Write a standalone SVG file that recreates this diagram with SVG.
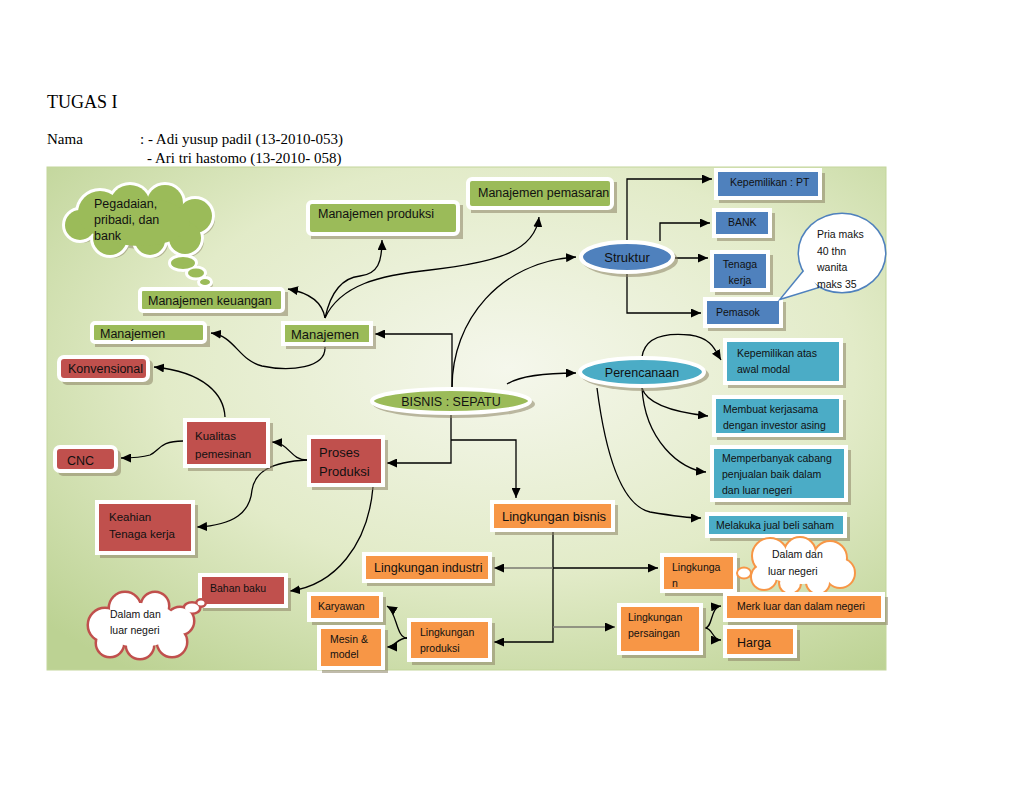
<svg xmlns="http://www.w3.org/2000/svg" width="1023" height="791" viewBox="0 0 1023 791">
<defs>
<radialGradient id="bg" cx="0.55" cy="0.4" r="0.75">
<stop offset="0" stop-color="#f5f7ec"/>
<stop offset="0.55" stop-color="#e2ebc8"/>
<stop offset="1" stop-color="#bcd293"/>
</radialGradient>
<marker id="a" markerUnits="userSpaceOnUse" markerWidth="10" markerHeight="9" refX="10" refY="4.5" orient="auto">
<path d="M0,0 L10,4.5 L0,9 z" fill="#000"/>
</marker>
<style>
.box{stroke:#fff;stroke-width:4}
.g{fill:#9bbb59}.r{fill:#c0504d}.o{fill:#f79646}.b{fill:#4f81bd}.c{fill:#4bacc6}
.sh{fill:#8c8466;opacity:.55}
.t{font-family:"Liberation Sans",Arial,sans-serif;font-size:12.5px;fill:#111}
.s{font-size:10.5px}
.m{font-size:11.5px}
.l{font-size:13px}
.hd{font-family:"Liberation Serif","Times New Roman",serif;fill:#000}
.ln{fill:none;stroke:#000;stroke-width:1.3;marker-end:url(#a)}
.gy{stroke:#7a7a70;stroke-width:1.6}
</style>
</defs>
<rect width="1023" height="791" fill="#fff"/>
<g id="header">
<text class="hd" x="47" y="108" font-size="18">TUGAS I</text>
<text class="hd" x="47" y="144" font-size="15">Nama</text>
<text class="hd" x="140" y="144" font-size="15">: - Adi yusup padil (13-2010-053)</text>
<text class="hd" x="147" y="163" font-size="15">- Ari tri hastomo (13-2010- 058)</text>
</g>
<rect id="panel" x="47" y="167" width="839" height="503" fill="url(#bg)" stroke="#c3d69b" stroke-width="1"/>

<g id="connectors">
<path class="ln" d="M627,240 V179 H712"/>
<path class="ln" d="M660,241 V223 H710"/>
<path class="ln" d="M675,258 H708"/>
<path class="ln" d="M627,274 V313 H701"/>
<path class="ln" d="M452,388 C452,320 500,262 576,257"/>
<path class="ln" d="M452,388 V334 H375"/>
<path class="ln" d="M507,384 C520,376 545,373 576,373"/>
<path class="ln" d="M451,415 V463 H387"/>
<path class="ln" d="M451,440 H516 V498"/>
<path class="ln" d="M553,532 V642 H494"/>
<path class="ln gy" d="M553,568 H494"/>
<path class="ln" d="M553,568 H658"/>
<path class="ln gy" d="M553,627 H615"/>
<path class="ln" d="M705,628 C713,628 710,607 721,606"/>
<path class="ln" d="M705,628 C713,628 712,640 721,640"/>
<path class="ln" d="M407,638 C396,638 397,612 387,606"/>
<path class="ln" d="M407,638 C397,638 395,647 387,647"/>
<path class="ln" d="M373,487 C368,545 335,585 290,591"/>
<path class="ln" d="M307,460 C290,460 290,443 272,442"/>
<path class="ln" d="M307,460 C270,462 255,472 252,490 C250,512 235,525 197,527"/>
<path class="ln" d="M183,441 C160,441 160,450 150,455 C140,458 130,458 121,458"/>
<path class="ln" d="M225,417 C224,395 205,372 154,367"/>
<path class="ln" d="M325,347 C326,368 290,372 262,366 C238,360 235,336 211,333"/>
<path class="ln" d="M325,318 C322,300 305,292 288,289"/>
<path class="ln" d="M325,318 C330,295 340,278 360,276 C378,274 382,262 382,240"/>
<path class="ln" d="M325,318 C340,285 380,275 430,270 C500,262 535,250 539,217"/>
<path class="ln" d="M642,357 C645,335 670,333 690,335 C712,338 715,350 721,360"/>
<path class="ln" d="M642,388 C648,408 690,414 708,416"/>
<path class="ln" d="M642,388 C645,440 680,470 706,472"/>
<path class="ln" d="M597,388 C605,450 620,505 650,512 C680,517 690,518 701,518"/>
</g>

<g id="cloud-green">
<g fill="#8c8466" opacity=".5" transform="translate(3,3)">
<circle cx="80" cy="225" r="15"/><circle cx="100" cy="213" r="22"/><circle cx="130" cy="205" r="20"/><circle cx="165" cy="203" r="18"/><circle cx="195" cy="216" r="17"/><circle cx="185" cy="238" r="16"/><circle cx="150" cy="240" r="15"/><circle cx="110" cy="238" r="17"/><ellipse cx="140" cy="222" rx="50" ry="24"/>
<ellipse cx="183" cy="263" rx="12" ry="6"/><ellipse cx="196" cy="273" rx="8" ry="4.5"/><ellipse cx="205" cy="282" rx="5" ry="3"/>
</g>
<g fill="none" stroke="#fff" stroke-width="6">
<circle cx="80" cy="225" r="15"/><circle cx="100" cy="213" r="22"/><circle cx="130" cy="205" r="20"/><circle cx="165" cy="203" r="18"/><circle cx="195" cy="216" r="17"/><circle cx="185" cy="238" r="16"/><circle cx="150" cy="240" r="15"/><circle cx="110" cy="238" r="17"/>
<ellipse cx="183" cy="263" rx="12" ry="6"/><ellipse cx="196" cy="273" rx="8" ry="4.5"/><ellipse cx="205" cy="282" rx="5" ry="3"/>
</g>
<g fill="#9bbb59">
<circle cx="80" cy="225" r="15"/><circle cx="100" cy="213" r="22"/><circle cx="130" cy="205" r="20"/><circle cx="165" cy="203" r="18"/><circle cx="195" cy="216" r="17"/><circle cx="185" cy="238" r="16"/><circle cx="150" cy="240" r="15"/><circle cx="110" cy="238" r="17"/><ellipse cx="140" cy="222" rx="50" ry="24"/>
<ellipse cx="183" cy="263" rx="12" ry="6"/><ellipse cx="196" cy="273" rx="8" ry="4.5"/><ellipse cx="205" cy="282" rx="5" ry="3"/>
</g>
<text class="t" x="94" y="208">Pegadaian,</text>
<text class="t" x="94" y="224">pribadi, dan</text>
<text class="t" x="94" y="240">bank</text>
</g>

<g id="mpem"><rect class="sh" x="471" y="182" width="146" height="31"/><rect class="box g" x="468" y="179" width="144" height="29" rx="4"/><text class="t" x="478" y="197">Manajemen pemasaran</text></g>
<g id="mprod"><rect class="sh" x="311" y="205" width="152" height="34"/><rect class="box g" x="308" y="202" width="150" height="32" rx="4"/><text class="t" x="318" y="218">Manajemen produksi</text></g>
<g id="mkeu"><rect class="sh" x="143" y="292" width="145" height="24"/><rect class="box g" x="140" y="289" width="143" height="22" rx="3"/><text class="t" x="148" y="305">Manajemen keuangan</text></g>
<g id="mleft"><rect class="sh" x="95" y="326" width="115" height="21"/><rect class="box g" x="92" y="323" width="113" height="19" rx="3"/><text class="t" x="100" y="338">Manajemen</text></g>
<g id="mcen"><rect class="sh" x="286" y="326" width="90" height="23"/><rect class="box g" x="283" y="323" width="88" height="21"/><text class="t l" x="291" y="339">Manajemen</text></g>

<g id="bisnis"><ellipse cx="454" cy="404" rx="81" ry="14" fill="#8c8466" opacity=".55"/><ellipse class="box g" cx="451" cy="401" rx="79" ry="12"/><text class="t" x="451" y="406" text-anchor="middle">BISNIS : SEPATU</text></g>
<g id="struktur"><ellipse cx="630" cy="260" rx="48" ry="17" fill="#8c8466" opacity=".55"/><ellipse class="box b" cx="627" cy="257" rx="46" ry="15"/><text class="t l" x="627" y="262" text-anchor="middle">Struktur</text></g>
<g id="perencanaan"><ellipse cx="645" cy="375" rx="64" ry="16" fill="#8c8466" opacity=".55"/><ellipse class="box c" cx="642" cy="372" rx="62" ry="14"/><text class="t" x="642" y="377" text-anchor="middle">Perencanaan</text></g>

<g id="pt"><rect class="sh" x="719" y="173" width="106" height="30"/><rect class="box b" x="716" y="170" width="104" height="28"/><text class="t s" x="730" y="186">Kepemilikan : PT</text></g>
<g id="bank"><rect class="sh" x="717" y="213" width="58" height="28"/><rect class="box b" x="714" y="210" width="56" height="26"/><text class="t s" x="728" y="226">BANK</text></g>
<g id="tenaga"><rect class="sh" x="715" y="255" width="58" height="40"/><rect class="box b" x="712" y="252" width="56" height="38"/><text class="t s" x="740" y="268" text-anchor="middle">Tenaga</text><text class="t s" x="740" y="284" text-anchor="middle">kerja</text></g>
<g id="pemasok"><rect class="sh" x="708" y="302" width="78" height="29"/><rect class="box b" x="705" y="299" width="76" height="27"/><text class="t s" x="716" y="316">Pemasok</text></g>

<g id="speech">
<g fill="none" stroke="#4f81bd" stroke-width="3"><ellipse cx="842" cy="253" rx="43" ry="39"/><path d="M805,270 L782,298 L818,287 z"/></g>
<g fill="#fff"><ellipse cx="842" cy="253" rx="43" ry="39"/><path d="M805,270 L782,298 L818,287 z"/></g>
<text class="t s" x="817" y="238">Pria maks</text>
<text class="t s" x="817" y="255">40 thn</text>
<text class="t s" x="817" y="271">wanita</text>
<text class="t s" x="817" y="288">maks 35</text>
</g>

<g id="kepawal"><rect class="sh" x="728" y="343" width="118" height="45"/><rect class="box c" x="725" y="340" width="116" height="43"/><text class="t s" x="737" y="357">Kepemilikan atas</text><text class="t s" x="737" y="373">awal modal</text></g>
<g id="kerjasama"><rect class="sh" x="717" y="400" width="129" height="40"/><rect class="box c" x="714" y="397" width="127" height="38"/><text class="t s" x="723" y="413">Membuat kerjasama</text><text class="t s" x="723" y="429">dengan investor asing</text></g>
<g id="cabang"><rect class="sh" x="715" y="450" width="136" height="55"/><rect class="box c" x="712" y="447" width="134" height="53"/><text class="t s" x="722" y="462">Memperbanyak cabang</text><text class="t s" x="722" y="478">penjualan baik dalam</text><text class="t s" x="722" y="494">dan luar negeri</text></g>
<g id="saham"><rect class="sh" x="710" y="517" width="140" height="24"/><rect class="box c" x="707" y="514" width="138" height="22"/><text class="t s" x="716" y="529">Melakuka jual beli saham</text></g>

<g id="konvensional"><rect class="sh" x="62" y="360" width="91" height="25" rx="5"/><rect class="box r" x="59" y="357" width="89" height="23" rx="5"/><text class="t" x="68" y="373">Konvensional</text></g>
<g id="kualitas"><rect class="sh" x="188" y="423" width="85" height="48"/><rect class="box r" x="185" y="420" width="83" height="46"/><text class="t m" x="195" y="440">Kualitas</text><text class="t m" x="195" y="458">pemesinan</text></g>
<g id="cnc"><rect class="sh" x="58" y="450" width="63" height="26" rx="5"/><rect class="box r" x="55" y="447" width="61" height="24" rx="5"/><text class="t" x="67" y="465">CNC</text></g>
<g id="proses"><rect class="sh" x="312" y="440" width="76" height="50"/><rect class="box r" x="309" y="437" width="74" height="48"/><text class="t l" x="319" y="457">Proses</text><text class="t l" x="319" y="476">Produksi</text></g>
<g id="keahlian"><rect class="sh" x="100" y="505" width="98" height="53"/><rect class="box r" x="97" y="502" width="96" height="51"/><text class="t m" x="109" y="521">Keahian</text><text class="t m" x="109" y="538">Tenaga kerja</text></g>
<g id="bahan"><rect class="sh" x="203" y="578" width="88" height="33"/><rect class="box r" x="200" y="575" width="86" height="31"/><text class="t s" x="210" y="592">Bahan baku</text></g>

<g id="cloud-red">
<g fill="none" stroke="#c0504d" stroke-width="5">
<circle cx="105" cy="625" r="16"/><circle cx="125" cy="608" r="15"/><circle cx="155" cy="606" r="13"/><circle cx="180" cy="621" r="13"/><circle cx="172" cy="642" r="14"/><circle cx="140" cy="645" r="13"/><circle cx="110" cy="643" r="13"/>
<ellipse cx="192" cy="608" rx="7" ry="4.5"/><ellipse cx="201" cy="603" rx="3.5" ry="2.5"/>
</g>
<g fill="#fff">
<circle cx="105" cy="625" r="16"/><circle cx="125" cy="608" r="15"/><circle cx="155" cy="606" r="13"/><circle cx="180" cy="621" r="13"/><circle cx="172" cy="642" r="14"/><circle cx="140" cy="645" r="13"/><circle cx="110" cy="643" r="13"/><ellipse cx="140" cy="625" rx="40" ry="22"/>
<ellipse cx="192" cy="608" rx="7" ry="4.5"/><ellipse cx="201" cy="603" rx="3.5" ry="2.5"/>
</g>
<text class="t s" x="110" y="618">Dalam dan</text>
<text class="t s" x="110" y="634">luar negeri</text>
</g>

<g id="lbisnis"><rect class="sh" x="495" y="505" width="123" height="30"/><rect class="box o" x="492" y="502" width="121" height="28"/><text class="t l" x="502" y="521">Lingkungan bisnis</text></g>
<g id="lindustri"><rect class="sh" x="367" y="557" width="128" height="29"/><rect class="box o" x="364" y="554" width="126" height="27"/><text class="t" x="374" y="572">Lingkungan industri</text></g>
<g id="karyawan"><rect class="sh" x="312" y="597" width="74" height="28"/><rect class="box o" x="309" y="594" width="72" height="26"/><text class="t s" x="318" y="610">Karyawan</text></g>
<g id="mesin"><rect class="sh" x="322" y="630" width="66" height="43"/><rect class="box o" x="319" y="627" width="64" height="41"/><text class="t s" x="330" y="643">Mesin &amp;</text><text class="t s" x="330" y="658">model</text></g>
<g id="lproduksi"><rect class="sh" x="412" y="623" width="83" height="42"/><rect class="box o" x="409" y="620" width="81" height="40"/><text class="t s" x="420" y="636">Lingkungan</text><text class="t s" x="420" y="652">produksi</text></g>
<g id="lingkungan"><rect class="sh" x="665" y="558" width="75" height="38"/><rect class="box o" x="662" y="555" width="73" height="36"/><text class="t s" x="672" y="571">Lingkunga</text><text class="t s" x="672" y="587">n</text></g>

<g id="cloud-orange">
<g fill="none" stroke="#f79646" stroke-width="4">
<circle cx="770" cy="556" r="17"/><circle cx="800" cy="553" r="15"/><circle cx="830" cy="558" r="16"/><circle cx="840" cy="573" r="14"/><circle cx="818" cy="582" r="11"/><circle cx="790" cy="583" r="10"/><circle cx="764" cy="577" r="12"/>
<ellipse cx="744" cy="573" rx="6" ry="4.5"/>
</g>
<g fill="#fff">
<circle cx="770" cy="556" r="17"/><circle cx="800" cy="553" r="15"/><circle cx="830" cy="558" r="16"/><circle cx="840" cy="573" r="14"/><circle cx="818" cy="582" r="11"/><circle cx="790" cy="583" r="10"/><circle cx="764" cy="577" r="12"/><ellipse cx="802" cy="568" rx="38" ry="16"/>
<ellipse cx="744" cy="573" rx="6" ry="4.5"/>
</g>
<text class="t s" x="772" y="558">Dalam dan</text>
<text class="t s" x="768" y="575">luar negeri</text>
</g>

<g id="lpersaingan"><rect class="sh" x="622" y="608" width="84" height="50"/><rect class="box o" x="619" y="605" width="82" height="48"/><text class="t s" x="628" y="621">Lingkungan</text><text class="t s" x="628" y="637">persaingan</text></g>
<g id="merk"><rect class="sh" x="728" y="597" width="160" height="28"/><rect class="box o" x="725" y="594" width="158" height="26"/><text class="t s" x="737" y="610">Merk luar dan dalam negeri</text></g>
<g id="harga"><rect class="sh" x="728" y="630" width="72" height="31"/><rect class="box o" x="725" y="627" width="70" height="29"/><text class="t" x="737" y="647" font-size="14">Harga</text></g>
</svg>
